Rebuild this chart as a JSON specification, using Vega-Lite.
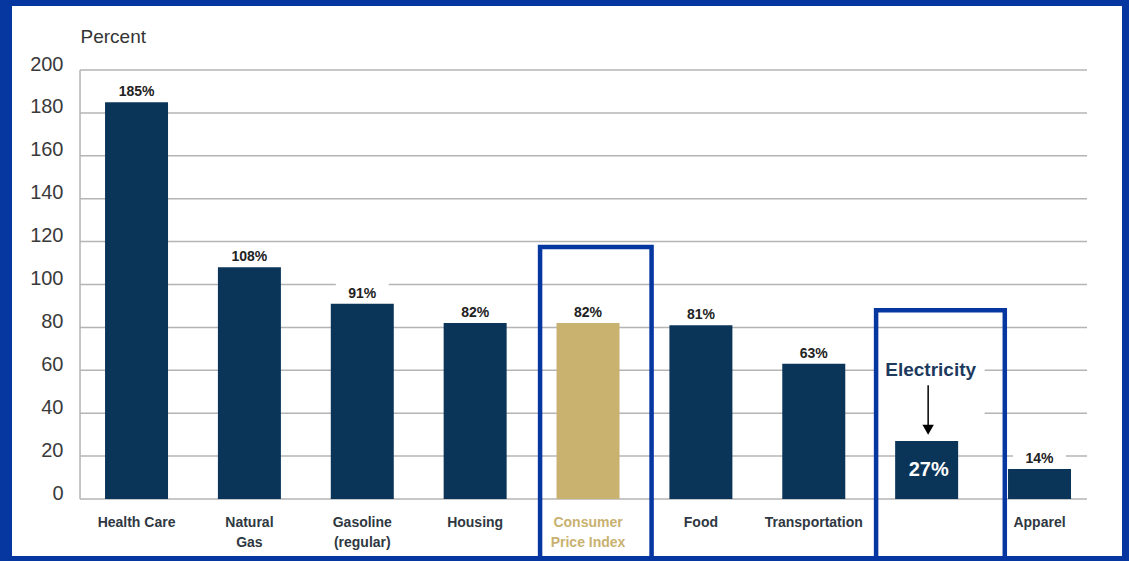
{
  "$schema": "https://vega.github.io/schema/vega-lite/v6.json",
  "width": 1110,
  "height": 550,
  "autosize": "none",
  "padding": {"left": 12, "top": 6, "right": 7, "bottom": 5},
  "background": "#0636a0",
  "config": {"view": {"fill": "white", "stroke": null}, "font": "Liberation Sans"},
  "datasets": {
    "bars": [
      {"category": "Health Care", "value": 185, "label": "185%"},
      {"category": "Natural Gas", "value": 108, "label": "108%"},
      {"category": "Gasoline (regular)", "value": 91, "label": "91%"},
      {"category": "Housing", "value": 82, "label": "82%"},
      {"category": "Consumer Price Index", "value": 82, "label": "82%"},
      {"category": "Food", "value": 81, "label": "81%"},
      {"category": "Transportation", "value": 63, "label": "63%"},
      {"category": "Electricity", "value": 27, "label": "27%"},
      {"category": "Apparel", "value": 14, "label": "14%"}
    ],
    "grid": [{"v": 0}, {"v": 20}, {"v": 40}, {"v": 60}, {"v": 80}, {"v": 100}, {"v": 120}, {"v": 140}, {"v": 160}, {"v": 180}, {"v": 200}],
    "one": [{"k": 1}]
  },
  "layer": [
    {
      "data": {"name": "grid"},
      "mark": {"type": "rule", "color": "#b4b4b4", "strokeWidth": 1.5, "xOffset": -56.5, "x2Offset": 47.5},
      "encoding": {
        "y": {
          "field": "v", "type": "quantitative",
          "scale": {"domain": [-26.57, 229.84], "nice": false, "zero": false},
          "axis": {
            "title": "Percent", "titleAngle": 0, "titleAlign": "left", "titleBaseline": "alphabetic",
            "titleX": 0, "titleY": 36, "titleFontSize": 19, "titleFontWeight": "normal", "titleColor": "#333333",
            "titleFont": "Liberation Sans",
            "offset": -68, "domain": false, "ticks": false, "grid": false, "labelPadding": 17,
            "labelFontSize": 20, "labelColor": "#3a3a3a", "labelBaseline": "alphabetic", "labelFont": "Liberation Sans",
            "values": [0, 20, 40, 60, 80, 100, 120, 140, 160, 180, 200]
          }
        },
        "x": {"datum": "Health Care", "type": "nominal"},
        "x2": {"datum": "Apparel"}
      }
    },
    {
      "data": {"name": "one"},
      "mark": {"type": "rule", "color": "#b4b4b4", "strokeWidth": 1.5, "xOffset": -56.5},
      "encoding": {
        "x": {"datum": "Health Care", "type": "nominal"},
        "y": {"datum": 0, "type": "quantitative"},
        "y2": {"datum": 200}
      }
    },
    {
      "data": {"name": "bars"},
      "transform": [{"filter": "datum.category !== 'Electricity'"}],
      "mark": {"type": "bar", "fill": "white", "width": {"band": 0.84}, "yOffset": -21, "y2Offset": -3},
      "encoding": {
        "x": {"field": "category", "type": "nominal"},
        "y": {"field": "value", "type": "quantitative"},
        "y2": {"field": "value"}
      }
    },
    {
      "data": {"name": "one"},
      "mark": {"type": "bar", "fill": "white", "width": {"band": 1.714}, "xOffset": 4},
      "encoding": {
        "x": {"datum": "Electricity", "type": "nominal"},
        "y": {"datum": 66, "type": "quantitative"},
        "y2": {"datum": 32}
      }
    },
    {
      "data": {"name": "bars"},
      "mark": {"type": "bar"},
      "encoding": {
        "x": {
          "field": "category", "type": "nominal",
          "scale": {
            "domain": ["Health Care", "Natural Gas", "Gasoline (regular)", "Housing", "Consumer Price Index", "Food", "Transportation", "Electricity", "Apparel"],
            "paddingInner": 0.4419, "paddingOuter": 0.638, "align": 0.646
          },
          "axis": {
            "title": null, "domain": false, "ticks": false, "grid": false, "labelPadding": 16, "offset": -57,
            "labelAngle": 0, "labelAlign": "center", "labelFont": "Liberation Sans", "labelFontSize": 14, "labelFontWeight": "bold",
            "labelBaseline": "top", "labelLineHeight": 20, "labelLimit": 0, "labelOverlap": false,
            "labelColor": {"condition": {"test": "datum.value === 'Consumer Price Index'", "value": "#c9b170"}, "value": "#2f3842"},
            "labelExpr": "datum.value === 'Natural Gas' ? ['Natural', 'Gas'] : datum.value === 'Gasoline (regular)' ? ['Gasoline', '(regular)'] : datum.value === 'Consumer Price Index' ? ['Consumer', 'Price Index'] : datum.value === 'Electricity' ? '' : datum.value"
          }
        },
        "y": {"field": "value", "type": "quantitative"},
        "color": {"condition": {"test": "datum.category === 'Consumer Price Index'", "value": "#c9b170"}, "value": "#0b3459"}
      }
    },
    {
      "data": {"name": "bars"},
      "transform": [{"filter": "datum.category !== 'Electricity'"}],
      "mark": {"type": "text", "fontSize": 14, "fontWeight": "bold", "color": "#222222", "dy": -6, "baseline": "alphabetic"},
      "encoding": {
        "x": {"field": "category", "type": "nominal"},
        "y": {"field": "value", "type": "quantitative"},
        "text": {"field": "label"}
      }
    },
    {
      "data": {"name": "bars"},
      "transform": [{"filter": "datum.category === 'Electricity'"}],
      "mark": {"type": "text", "fontSize": 20, "fontWeight": "bold", "color": "white", "dy": 29, "dx": 2, "baseline": "middle"},
      "encoding": {
        "x": {"field": "category", "type": "nominal"},
        "y": {"field": "value", "type": "quantitative"},
        "text": {"field": "label"}
      }
    },
    {
      "data": {"name": "one"},
      "mark": {"type": "text", "text": "Electricity", "fontSize": 19, "fontWeight": "bold", "color": "#1d3a5e", "dx": 4, "baseline": "middle"},
      "encoding": {
        "x": {"datum": "Electricity", "type": "nominal"},
        "y": {"datum": 60, "type": "quantitative"}
      }
    },
    {
      "data": {"name": "one"},
      "mark": {"type": "rule", "color": "black", "strokeWidth": 1.5, "xOffset": 1.5},
      "encoding": {
        "x": {"datum": "Electricity", "type": "nominal"},
        "y": {"datum": 53, "type": "quantitative"},
        "y2": {"datum": 33}
      }
    },
    {
      "data": {"name": "one"},
      "mark": {"type": "point", "shape": "triangle-down", "filled": true, "color": "black", "size": 130, "opacity": 1, "xOffset": 1.5},
      "encoding": {
        "x": {"datum": "Electricity", "type": "nominal"},
        "y": {"datum": 32.3, "type": "quantitative"}
      }
    },
    {
      "data": {"name": "one"},
      "mark": {"type": "bar", "fillOpacity": 0, "stroke": "#0636a0", "strokeWidth": 4.5, "width": {"band": 1.77}, "xOffset": 7.8},
      "encoding": {
        "x": {"datum": "Consumer Price Index", "type": "nominal"},
        "y": {"datum": 117.5, "type": "quantitative"},
        "y2": {"datum": -30}
      }
    },
    {
      "data": {"name": "one"},
      "mark": {"type": "bar", "fillOpacity": 0, "stroke": "#0636a0", "strokeWidth": 4.5, "width": {"band": 2.043}, "xOffset": 13.8},
      "encoding": {
        "x": {"datum": "Electricity", "type": "nominal"},
        "y": {"datum": 88, "type": "quantitative"},
        "y2": {"datum": -30}
      }
    }
  ]
}
